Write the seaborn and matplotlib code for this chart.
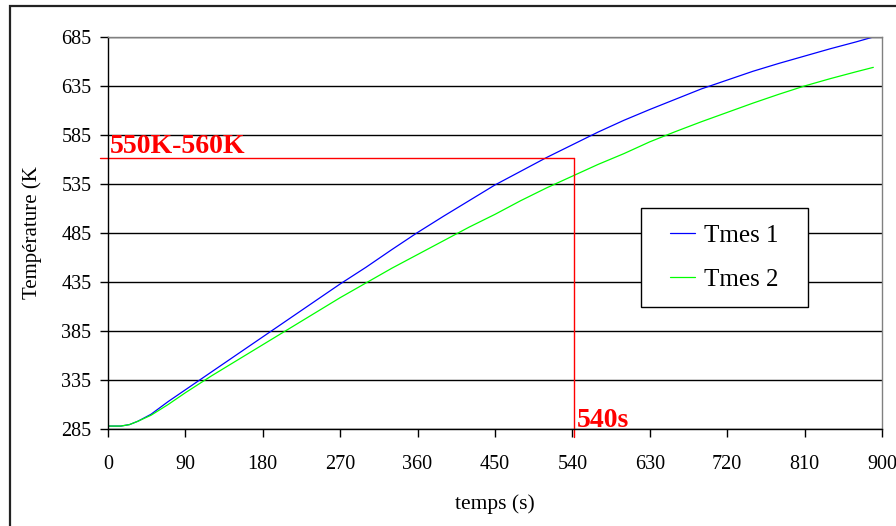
import pandas as pd
import matplotlib.pyplot as plt
import matplotlib.patches as mpatches
import seaborn as sns

# Values
temps = [0, 15, 25, 35, 50, 70, 90, 120, 150, 180, 210, 240, 270, 300, 330, 360,
         390, 420, 450, 480, 510, 540, 570, 600, 630, 660, 690, 720, 750, 780,
         810, 840, 870, 890]
tmes1 = [288, 288, 289.5, 293, 300, 313, 325, 343, 361, 379, 397, 415, 433, 450,
         468, 485.5, 502, 518, 534, 548, 562, 575, 588, 600, 611, 621.5, 632,
         641, 650, 658, 665.5, 673, 680, 685]
tmes2 = [288, 288, 289.5, 293, 299, 310, 322, 339, 355, 371, 387, 403, 419, 434,
         449, 463, 477, 491, 504, 518, 531, 543, 555, 566, 578, 588.5, 598.5,
         608, 617.5, 626.5, 635, 642.5, 649.5, 654]

x_ticks = [0, 90, 180, 270, 360, 450, 540, 630, 720, 810, 900]
y_ticks = [285, 335, 385, 435, 485, 535, 585, 635, 685]

seuil_temp = 561.5   # "550K-560K" marker
seuil_temps = 542    # "540s" marker

df = pd.DataFrame({
    'temps': temps * 2,
    'T': tmes1 + tmes2,
    'serie': ['Tmes 1'] * len(temps) + ['Tmes 2'] * len(temps),
})


def make_plot():
    sns.set_theme(style='white')
    plt.rcParams['font.family'] = ['Liberation Serif', 'DejaVu Serif']
    plt.rcParams['text.color'] = 'black'
    plt.rcParams['axes.labelcolor'] = 'black'

    fig = plt.figure(figsize=(8.96, 5.26), dpi=100)
    ax = fig.add_axes([0.1205, 0.1844, 0.8638, 0.7453])

    sns.lineplot(data=df, x='temps', y='T', hue='serie',
                 palette={'Tmes 1': '#0000FF', 'Tmes 2': '#00FF00'},
                 linewidth=0.9, ax=ax)

    ax.set_xlim(0, 900)
    ax.set_ylim(285, 685)
    ax.set_xticks(x_ticks)
    ax.set_yticks(y_ticks)
    ax.tick_params(axis='both', labelsize=14.5, colors='black', direction='out',
                   length=6, width=1)
    ax.tick_params(axis='x', pad=13, bottom=True)
    ax.tick_params(axis='y', pad=6, left=True)

    ax.yaxis.grid(True, color='black', linewidth=1)
    ax.xaxis.grid(False)
    ax.set_axisbelow(True)
    for side in ['left', 'bottom']:
        ax.spines[side].set_color('black')
        ax.spines[side].set_linewidth(1)
    for side in ['top', 'right']:
        ax.spines[side].set_color('#808080')
        ax.spines[side].set_linewidth(1)

    ax.set_xlabel('temps (s)', fontsize=15.5, labelpad=14)
    ax.set_ylabel('Température (K', fontsize=15)
    ax.yaxis.set_label_coords(-0.085, 0.5)

    # red threshold markers
    ax.plot([-9.5, seuil_temps], [seuil_temp, seuil_temp], color='red',
            linewidth=1, clip_on=False)
    ax.plot([seuil_temps, seuil_temps], [seuil_temp, 276.8], color='red',
            linewidth=1, clip_on=False)
    ax.text(2, 566.5, '550K-560K', color='red', fontsize=20,
            fontweight='bold', va='baseline', ha='left')
    ax.text(seuil_temps + 3, 287.5, '540s', color='red', fontsize=20,
            fontweight='bold', va='baseline', ha='left')

    # legend box, then the entries centred inside it
    ax.add_patch(mpatches.Rectangle((0.6886, 0.3112), 0.2158, 0.2526,
                                    transform=ax.transAxes, facecolor='white',
                                    edgecolor='black', linewidth=1, zorder=4))
    leg = ax.legend(loc='center', bbox_to_anchor=(0.7965, 0.4375),
                    fontsize=18, frameon=False, handlelength=1.0,
                    handletextpad=0.35, labelspacing=0.85, borderpad=0)
    leg.set_zorder(5)

    # outer chart frame (cropped on the right and bottom)
    fig.patches.append(mpatches.Rectangle((0.0112, -0.5), 2, 1.4886,
                                          transform=fig.transFigure,
                                          fill=False, edgecolor='#222222',
                                          linewidth=1.6))

    fig.savefig('out.png', dpi=100)


if __name__ == "__main__":
    make_plot()
